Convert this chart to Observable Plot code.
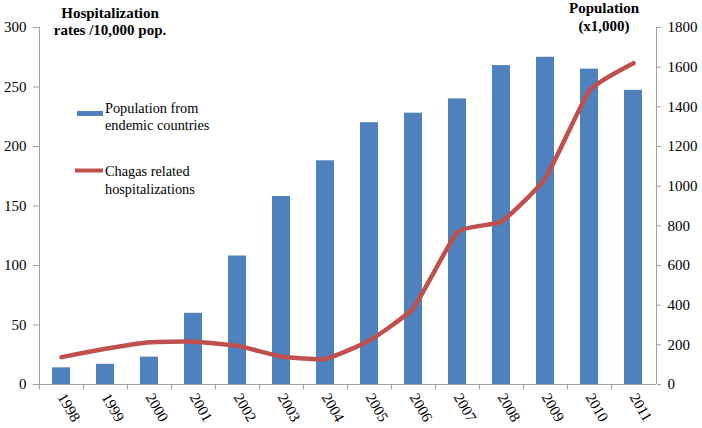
<!DOCTYPE html>
<html><head><meta charset="utf-8">
<script src="https://cdn.jsdelivr.net/npm/d3@7"></script>
<script src="https://cdn.jsdelivr.net/npm/@observablehq/plot@0.6"></script>
<style>
html,body{margin:0;padding:0;background:#fff;}
#chart{position:relative;width:702px;height:428px;}
#chart svg, #chart svg text{font-family:"Liberation Serif","Times New Roman",serif !important;}
</style></head>
<body><div id="chart"></div>
<script>
const years = ["1998","1999","2000","2001","2002","2003","2004","2005","2006","2007","2008","2009","2010","2011"];
// Population from endemic countries (x1,000) - right axis
const population = [84, 102, 138, 359, 648, 948, 1128, 1320, 1368, 1440, 1608, 1650, 1590, 1483];
// Chagas related hospitalizations (rates /10,000 pop.) - left axis
const hospitalizations = [23, 30, 35.5, 36, 32.5, 23.5, 21.5, 37, 64.5, 128, 137, 173.5, 247, 270];
const leftTicks = [0, 50, 100, 150, 200, 250, 300];
const rightTicks = [0, 200, 400, 600, 800, 1000, 1200, 1400, 1600, 1800];
const ratio = 1800 / 300;

const barData = years.map((y, i) => ({year: y, pop: population[i]}));
const lineData = years.map((y, i) => ({year: y, rate: hospitalizations[i]}));

const W = 702, H = 428, mL = 39, mR = 46, mT = 27, mB = 44;
const font = "Liberation Serif";
const axisGrey = "#a0a0a0";

const plot = Plot.plot({
  width: W, height: H,
  marginLeft: mL, marginRight: mR, marginTop: mT, marginBottom: mB,
  style: {fontSize: "15px", color: "#000", background: "#fff"},
  x: {domain: years, paddingInner: 0.59, paddingOuter: 0.295, label: null},
  y: {domain: [0, 300], label: null},
  marks: [
    Plot.barY(barData, {x: "year", y: d => d.pop / ratio, fill: "#4f81bd"}),
    Plot.line(lineData, {x: "year", y: "rate", stroke: "#c0504d", strokeWidth: 4.5, curve: "cardinal", tension: 0.55, strokeLinejoin: "round"}),
    Plot.axisY({anchor: "left", ticks: leftTicks, tickSize: 6, tickPadding: 7, stroke: axisGrey, label: null, fill: "#000"}),
    Plot.axisY({anchor: "right", ticks: rightTicks.map(v => v / ratio), tickFormat: d => String(Math.round(d * ratio)), tickSize: 4, tickPadding: 7, stroke: axisGrey, label: null, fill: "#000"}),
    Plot.axisX({tickSize: 0, tickPadding: 10, tickRotate: 60, label: null, fill: "#000"}),
    Plot.ruleX(years, {x: d => d, dx: -22, y1: 0, y2: -4.5, stroke: axisGrey}),
    Plot.ruleY([0], {stroke: axisGrey})
  ]
});

const svg = d3.select(plot);
// axis lines
svg.append("line").attr("x1", mL + 0.5).attr("x2", mL + 0.5).attr("y1", mT).attr("y2", H - mB).attr("stroke", axisGrey);
svg.append("line").attr("x1", W - mR + 0.5).attr("x2", W - mR + 0.5).attr("y1", mT).attr("y2", H - mB).attr("stroke", axisGrey);

// axis titles
const tg = svg.append("g").attr("font-family", font).attr("font-weight", "bold").attr("font-size", 15).attr("text-anchor", "middle").attr("fill", "#000");
tg.append("text").attr("x", 110).attr("y", 18).text("Hospitalization");
tg.append("text").attr("x", 110).attr("y", 35).text("rates /10,000 pop.");
tg.append("text").attr("x", 604).attr("y", 13).text("Population");
tg.append("text").attr("x", 604).attr("y", 31).text("(x1,000)");

// legend
const lg = svg.append("g").attr("font-family", font).attr("font-size", 14.3).attr("text-anchor", "start").attr("fill", "#000");
lg.append("rect").attr("x", 77).attr("y", 111).attr("width", 26).attr("height", 5).attr("fill", "#4f81bd");
lg.append("text").attr("x", 105).attr("y", 113).text("Population from");
lg.append("text").attr("x", 105).attr("y", 130).text("endemic countries");
lg.append("line").attr("x1", 75).attr("x2", 103).attr("y1", 170.5).attr("y2", 170.5).attr("stroke", "#c0504d").attr("stroke-width", 4);
lg.append("text").attr("x", 105).attr("y", 176).text("Chagas related");
lg.append("text").attr("x", 105).attr("y", 194).text("hospitalizations");

document.getElementById("chart").appendChild(plot);
</script></body></html>
